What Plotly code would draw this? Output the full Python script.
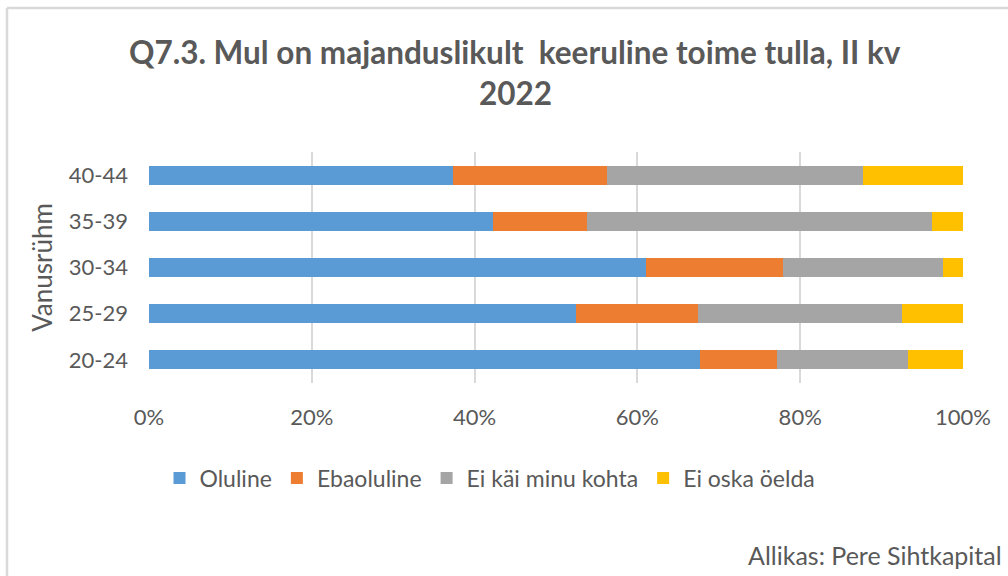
import plotly.graph_objects as go

groups = ['20-24', '25-29', '30-34', '35-39', '40-44']
oluline = [67.7, 52.5, 61.1, 42.3, 37.4]
ebaoluline = [9.4, 15.0, 16.8, 11.5, 18.9]
ei_kai = [16.2, 25.0, 19.6, 42.4, 31.4]
ei_oska = [6.7, 7.5, 2.5, 3.8, 12.3]

series = [
    ('Oluline', oluline, '#5B9BD5'),
    ('Ebaoluline', ebaoluline, '#ED7D31'),
    ('Ei käi minu kohta', ei_kai, '#A5A5A5'),
    ('Ei oska öelda', ei_oska, '#FFC000'),
]

txt = '#595959'
font = 'Lato, Open Sans, sans-serif'

fig = go.Figure()
for name, vals, color in series:
    fig.add_trace(go.Bar(
        y=groups, x=[v / 100 for v in vals], name=name, orientation='h',
        marker=dict(color=color, line=dict(width=0)), width=0.41,
    ))

fig.update_layout(
    barmode='stack',
    width=1008, height=576,
    margin=dict(l=149, r=45, t=152, b=193),
    paper_bgcolor='white', plot_bgcolor='white',
    font=dict(family=font, size=22, color=txt),
    showlegend=True,
    legend=dict(orientation='h', x=(490 - 149) / 814, xanchor='center',
                y=(383 - 478) / 231, yanchor='middle',
                font=dict(size=23, color=txt), traceorder='normal',
                itemwidth=30, bgcolor='rgba(0,0,0,0)'),
)

fig.update_xaxes(range=[0, 1], tickformat='.0%', dtick=0.2, showgrid=True,
                 gridcolor='#d9d9d9', gridwidth=1.5, zeroline=False, showline=False,
                 ticks='', ticklabelstandoff=19, tickfont=dict(size=22, color=txt))
fig.update_yaxes(title_text='Vanusrühm', title_font=dict(size=26, color=txt),
                 title_standoff=8, showgrid=False, zeroline=False, showline=False,
                 ticks='', ticklabelstandoff=20, tickfont=dict(size=22, color=txt))

# title in two lines
fig.add_annotation(text='<b>Q7.3. Mul on majanduslikult  keeruline toime tulla, II kv</b>',
                   xref='paper', yref='paper', x=(515 - 149) / 814, y=(383 - 52) / 231,
                   showarrow=False, font=dict(size=31.5, color=txt, family=font),
                   xanchor='center', yanchor='middle')
fig.add_annotation(text='<b>2022</b>',
                   xref='paper', yref='paper', x=(515 - 149) / 814, y=(383 - 93) / 231,
                   showarrow=False, font=dict(size=31.5, color=txt, family=font),
                   xanchor='center', yanchor='middle')

# source note
fig.add_annotation(text='Allikas: Pere Sihtkapital',
                   xref='paper', yref='paper', x=(1004 - 149) / 814, y=(383 - 555) / 231,
                   showarrow=False, font=dict(size=25, color=txt, family=font),
                   xanchor='right', yanchor='middle')

# frame lines of the chart box
fig.add_shape(type='line', xref='paper', yref='paper',
              x0=(7 - 149) / 814, x1=(1010 - 149) / 814,
              y0=(383 - 8) / 231, y1=(383 - 8) / 231,
              line=dict(color='#d9d9d9', width=2.5))
fig.add_shape(type='line', xref='paper', yref='paper',
              x0=(7 - 149) / 814, x1=(7 - 149) / 814,
              y0=(383 - 8) / 231, y1=(383 - 580) / 231,
              line=dict(color='#d9d9d9', width=2.5))

fig.write_html('out.html', config={'displayModeBar': False},
               post_script="document.body.style.margin='0';")
